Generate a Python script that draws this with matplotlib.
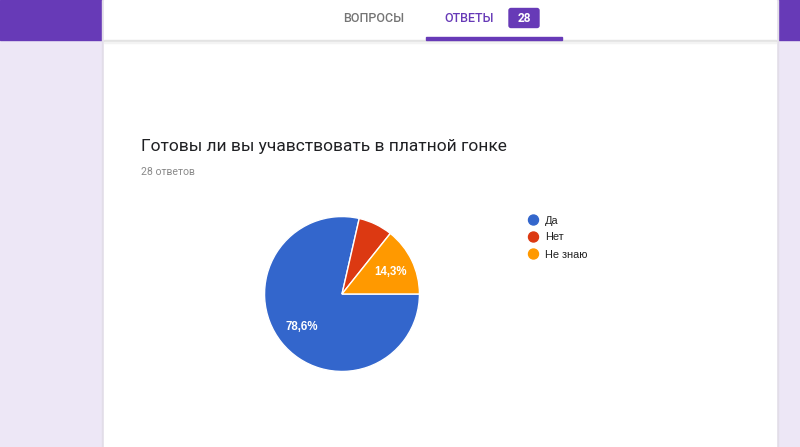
import matplotlib
matplotlib.use("Agg")
import matplotlib.pyplot as plt
from matplotlib.patches import Rectangle, FancyBboxPatch, Circle

# ---- data ----
title = "Готовы ли вы учавствовать в платной гонке"
subtitle = "28 ответов"
categories = ["Да", "Нет", "Не знаю"]
counts = [22, 2, 4]
colors = ["#3366cc", "#dc3912", "#ff9900"]
tab_labels = ["ВОПРОСЫ", "ОТВЕТЫ"]
badge_value = "28"

W, H = 800, 447
fig = plt.figure(figsize=(W / 100, H / 100), dpi=100)
fig.patch.set_facecolor("#ede7f6")

# background / chrome axes in pixel coordinates
bg = fig.add_axes([0, 0, 1, 1])
bg.set_xlim(0, W)
bg.set_ylim(H, 0)
bg.axis("off")

purple = "#673ab7"
bg.add_patch(Rectangle((0, 0), W, 40, color=purple, zorder=1))
# card shadow
bg.add_patch(Rectangle((102, 0), 676, H, color="#e2dde8", zorder=2))
bg.add_patch(Rectangle((104, 0), 672, H, color="white", zorder=3))
# subtle shadow under header
bg.add_patch(Rectangle((104, 40), 672, 1.5, color="#e3e3e3", zorder=4))
bg.add_patch(Rectangle((104, 41.5), 672, 1.5, color="#f3f3f3", zorder=4))

# tabs
bg.text(374, 19, tab_labels[0], ha="center", va="center", fontsize=9,
        family="Roboto", fontweight="medium", color="#757575", zorder=5)
bg.text(469, 19, tab_labels[1], ha="center", va="center", fontsize=9,
        family="Roboto", fontweight="medium", color=purple, zorder=5)
bg.add_patch(FancyBboxPatch((509, 8.5), 30, 19, boxstyle="round,pad=0,rounding_size=2",
                            color=purple, zorder=5))
bg.text(524, 18.5, badge_value, ha="center", va="center", fontsize=8.6,
        family="Roboto", fontweight="bold", color="white", zorder=6)
bg.add_patch(Rectangle((426, 37), 136, 2.5, color=purple, zorder=5))

# title
bg.text(141, 147, title, ha="left", va="center", fontsize=12.5,
        family="Roboto", color="#202124", zorder=5)
bg.text(141, 172, subtitle, ha="left", va="center", fontsize=7.6,
        family="Roboto", color="#8a8a8a", zorder=5)

# legend
for i, (cat, col) in enumerate(zip(categories, colors)):
    y = 220 + 17 * i
    bg.add_patch(Circle((533.5, y), 5, color=col, zorder=5))
    bg.text(545, y + 0.5, cat, ha="left", va="center", fontsize=7.9,
            family="Liberation Sans", color="#222222", zorder=5)

# pie
cx, cy, r = 342, 294, 79
ax = fig.add_axes([(cx - r) / W, (H - cy - r) / H, 2 * r / W, 2 * r / H])
ax.set_zorder(10)


def fmt(p):
    return (f"{p:.1f}".replace(".", ",") + "%") if p > 10 else ""


wedges, texts, autotexts = ax.pie(
    counts, colors=colors, startangle=0, counterclock=False,
    autopct=fmt, pctdistance=0.67,
    wedgeprops=dict(edgecolor="white", linewidth=1.0),
    textprops=dict(color="white", fontsize=8.3, family="Liberation Sans",
                   fontweight="bold"),
)
ax.set_xlim(-1.02, 1.02)
ax.set_ylim(-1.02, 1.02)
# Google-style label placement
autotexts[2].set_position((0.62, 0.28))
autotexts[0].set_position((-0.52, -0.42))

fig.savefig("out.png", dpi=100, facecolor=fig.get_facecolor())
